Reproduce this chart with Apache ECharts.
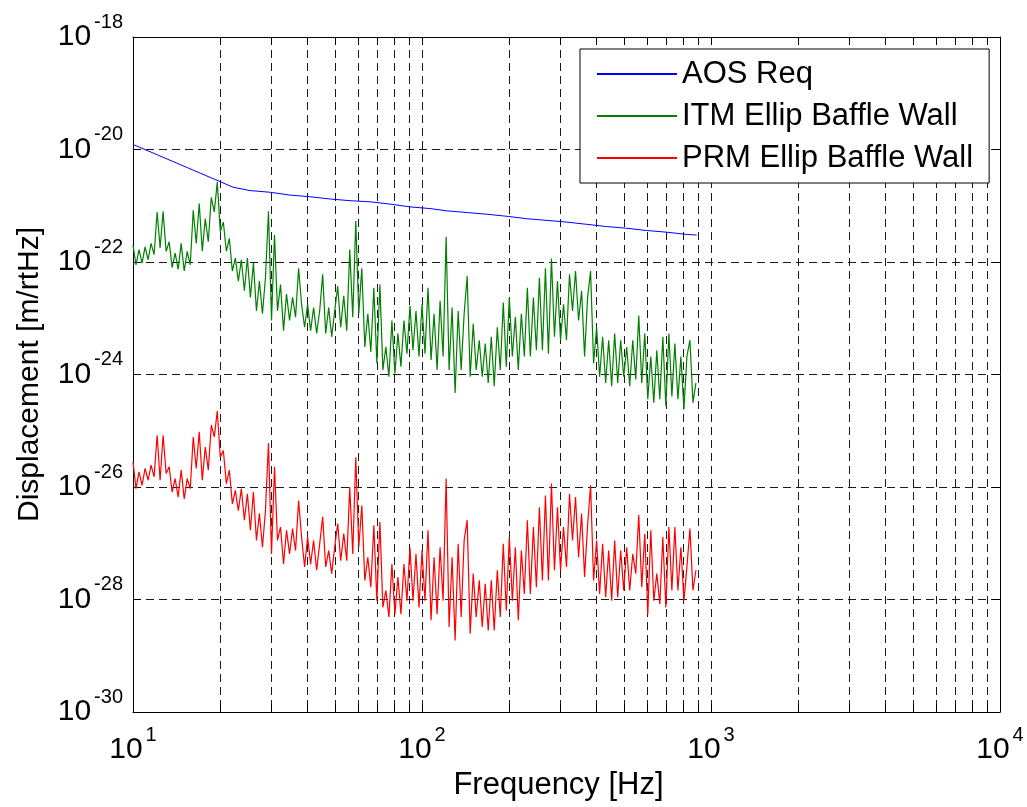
<!DOCTYPE html>
<html>
<head>
<meta charset="utf-8">
<title>Displacement spectra</title>
<script src="https://cdn.jsdelivr.net/npm/echarts@6/dist/echarts.min.js"></script>
<style>
  html, body { margin: 0; padding: 0; background: #fff; }
  #main { width: 1027px; height: 807px; }
</style>
</head>
<body>
<div id="main"></div>
<script>
// frequencies of the measured spectra [Hz]
var FREQ = [
  10, 10.24, 10.49, 10.75, 11.01, 11.28, 11.55, 11.83, 12.12, 12.41, 12.71, 13.02, 13.34, 13.66, 13.99, 14.33,
  14.68, 15.04, 15.40, 15.78, 16.16, 16.55, 16.95, 17.37, 17.78, 18.22, 18.66, 19.11, 19.57, 20.05, 20.54, 21.04,
  21.54, 22.07, 22.60, 23.15, 23.71, 24.29, 24.88, 25.48, 26.10, 26.74, 27.38, 28.05, 28.73, 29.43, 30.15, 30.88,
  31.62, 32.39, 33.18, 33.98, 34.81, 35.66, 36.52, 37.41, 38.31, 39.24, 40.20, 41.17, 42.17, 43.20, 44.25, 45.32,
  46.42, 47.55, 48.70, 49.88, 51.09, 52.33, 53.61, 54.91, 56.23, 57.60, 59.00, 60.43, 61.90, 63.40, 64.94, 66.52,
  68.13, 69.79, 71.49, 73.22, 74.99, 76.82, 78.68, 80.59, 82.54, 84.55, 86.60, 88.70, 90.85, 93.06, 95.32, 97.63,
  100, 102.4, 104.9, 107.5, 110.1, 112.8, 115.5, 118.3, 121.2, 124.1, 127.1, 130.2, 133.4, 136.6, 139.9, 143.3,
  146.8, 150.4, 154.0, 157.8, 161.6, 165.5, 169.5, 173.7, 177.8, 182.2, 186.6, 191.1, 195.7, 200.5, 205.4, 210.4,
  215.4, 220.7, 226.0, 231.5, 237.1, 242.9, 248.8, 254.8, 261.0, 267.4, 273.8, 280.5, 287.3, 294.3, 301.5, 308.8,
  316.2, 323.9, 331.8, 339.8, 348.1, 356.6, 365.2, 374.1, 383.1, 392.4, 402.0, 411.7, 421.7, 432.0, 442.5, 453.2,
  464.2, 475.5, 487.0, 498.8, 510.9, 523.3, 536.1, 549.1, 562.3, 576.0, 590.0, 604.3, 619.0, 634.0, 649.4, 665.2,
  681.3, 697.9, 714.9, 732.2, 749.9, 768.2, 786.8, 805.9, 825.4, 845.5, 866.0, 887.0
]

// ITM Ellip Baffle Wall, log10 of displacement [m/rtHz]
var ITM_LOG = [
  -21.70, -22.05, -21.78, -22.02, -21.73, -21.96, -21.67, -21.87, -21.11, -21.75, -21.10, -21.81, -21.64, -22.10, -21.84, -22.13,
  -21.67, -22.16, -21.81, -22.05, -21.08, -21.67, -20.96, -21.81, -21.23, -21.64, -20.85, -21.11, -20.58, -21.46, -21.29, -21.81,
  -21.58, -22.16, -21.93, -22.34, -21.96, -22.51, -21.93, -22.63, -22.02, -22.87, -22.34, -22.92, -22.28, -21.10, -23.04, -21.52,
  -22.87, -22.40, -23.22, -22.57, -23.04, -22.63, -22.98, -22.11, -22.75, -23.16, -22.75, -23.22, -22.81, -23.27, -22.87, -22.22,
  -23.27, -22.81, -23.33, -22.87, -22.43, -23.16, -22.60, -23.22, -21.78, -22.98, -21.27, -22.92, -22.11, -23.51, -22.92, -23.60,
  -22.46, -23.80, -22.40, -23.92, -23.51, -24.04, -23.04, -23.98, -23.27, -23.86, -23.04, -23.63, -22.78, -23.57, -22.87, -23.68,
  -22.75, -23.63, -22.46, -23.74, -22.92, -23.92, -22.69, -23.68, -21.55, -23.92, -22.81, -24.33, -22.87, -23.92, -22.92, -22.25,
  -24.04, -23.10, -23.92, -23.39, -24.04, -23.45, -24.15, -23.33, -24.21, -23.16, -23.92, -22.72, -23.86, -22.63, -23.68, -22.98,
  -23.92, -22.92, -23.68, -22.46, -23.68, -22.63, -23.57, -22.28, -23.57, -22.11, -23.63, -21.94, -23.33, -22.34, -23.39, -22.75,
  -23.39, -22.22, -22.87, -22.16, -23.04, -22.51, -23.68, -22.63, -22.16, -23.80, -23.16, -24.04, -23.33, -24.15, -23.39, -24.21,
  -23.27, -24.15, -23.39, -24.04, -23.51, -24.21, -23.39, -24.09, -22.95, -24.15, -23.27, -24.44, -23.68, -24.50, -23.57, -24.44,
  -23.33, -24.56, -23.27, -24.39, -23.45, -24.44, -23.68, -24.62, -23.68, -23.39, -24.50, -24.15
]

// PRM Ellip Baffle Wall, log10 of displacement [m/rtHz]
var PRM_LOG = [
  -25.55, -26.03, -25.73, -25.97, -25.67, -25.88, -25.61, -25.82, -25.08, -25.88, -25.08, -25.76, -25.64, -26.09, -25.85, -26.18,
  -25.70, -26.21, -25.85, -26.03, -25.11, -25.67, -25.02, -25.88, -25.29, -25.70, -24.90, -25.11, -24.65, -25.47, -25.35, -25.94,
  -25.70, -26.30, -26.06, -26.42, -26.03, -26.59, -26.12, -26.77, -26.09, -26.95, -26.47, -27.07, -26.42, -25.22, -27.19, -25.64,
  -26.95, -26.71, -27.37, -26.77, -27.19, -26.74, -27.13, -26.24, -26.89, -27.42, -26.89, -27.37, -26.95, -27.48, -27.01, -26.53,
  -27.42, -27.13, -27.54, -27.07, -26.65, -27.31, -26.83, -27.31, -26.00, -27.19, -25.47, -27.07, -26.33, -27.66, -27.25, -27.78,
  -26.68, -28.02, -26.62, -28.14, -27.84, -28.31, -27.37, -28.26, -27.60, -28.26, -27.37, -28.02, -27.07, -28.02, -27.19, -28.14,
  -27.13, -28.02, -26.77, -28.37, -27.25, -28.26, -27.07, -28.02, -25.85, -28.49, -27.25, -28.73, -27.01, -28.31, -26.95, -26.59,
  -28.61, -27.54, -28.31, -27.66, -28.49, -27.72, -28.55, -27.66, -28.55, -27.48, -28.31, -27.01, -28.20, -26.89, -28.02, -27.07,
  -28.37, -27.13, -27.90, -26.59, -27.90, -26.71, -27.78, -26.36, -27.66, -26.15, -27.66, -25.94, -27.48, -26.36, -27.48, -26.71,
  -27.42, -26.12, -26.95, -26.18, -27.25, -26.47, -27.60, -26.68, -25.97, -27.66, -26.95, -27.90, -27.01, -27.96, -27.13, -28.02,
  -26.95, -27.96, -27.13, -27.84, -27.07, -27.84, -27.19, -27.54, -26.50, -27.78, -26.83, -28.26, -26.77, -28.02, -27.54, -28.08,
  -26.89, -28.14, -26.71, -27.84, -26.71, -27.84, -27.07, -28.02, -27.42, -26.74, -27.84, -27.48
]

// AOS requirement curve
var AOS_FREQ = [10, 22.2, 25.4, 29.8, 34.9, 41.0, 48.1, 56.4, 66.1, 77.5, 90.9, 106.6, 121.8, 142.8, 167.4, 198.9,
  230.3, 270.1, 316.7, 371.4, 435.6, 510.9, 599.1, 702.6, 823.9, 892.5]
var AOS_LOG = [-19.91, -20.67, -20.73, -20.76, -20.81, -20.84, -20.88, -20.91, -20.93, -20.97, -21.02, -21.05, -21.09, -21.12, -21.15, -21.19,
  -21.23, -21.26, -21.29, -21.33, -21.37, -21.40, -21.44, -21.47, -21.51, -21.52]

// axis ticks
var X_TICKS = [10, 20, 30, 40, 50, 60, 70, 80, 90, 100, 200, 300, 400, 500, 600, 700, 800, 900,
  1000, 2000, 3000, 4000, 5000, 6000, 7000, 8000, 9000, 10000]
var X_LABELS = [10, 100, 1000, 10000]
var Y_TICKS = [1e-30, 1e-28, 1e-26, 1e-24, 1e-22, 1e-20, 1e-18]

var FONT = 'Liberation Sans, Arial, Helvetica, sans-serif'

function toPairs (freq, logs) {
  return freq.map(function (f, i) { return [f, Math.pow(10, logs[i])] })
}

// "10" with the exponent raised as a superscript
function powLabel (v) {
  var e = Math.round(Math.log10(v))
  return '{b|10}{s|' + e + '}'
}

var powRich = {
  b: { fontSize: 30, lineHeight: 30, fontFamily: FONT, color: '#000' },
  s: { fontSize: 20, lineHeight: 20, fontFamily: FONT, color: '#000', padding: [0, 0, 30, 3] }
}

var gridDash = { color: '#1a1a1a', width: 1, type: [8, 5] }

var option = {
  animation: false,
  backgroundColor: '#fff',
  grid: { left: 133, right: 27, top: 37, bottom: 95, outerBoundsMode: 'none' },
  legend: {
    orient: 'vertical',
    left: 580,
    top: 49,
    padding: [4, 16, 4, 16],
    itemGap: 0,
    itemWidth: 80,
    itemHeight: 14,
    selectedMode: false,
    backgroundColor: '#fff',
    borderColor: '#000',
    borderWidth: 1,
    itemStyle: { opacity: 0 },
    textStyle: { fontSize: 31, lineHeight: 42, fontFamily: FONT, color: '#000' },
    data: ['AOS Req', 'ITM Ellip Baffle Wall', 'PRM Ellip Baffle Wall']
  },
  xAxis: [
    {
      type: 'log',
      logBase: 10,
      min: 10,
      max: 10000,
      position: 'bottom',
      name: 'Frequency [Hz]',
      nameLocation: 'middle',
      nameGap: 58,
      nameMoveOverlap: false,
      nameTextStyle: { fontSize: 31, fontFamily: FONT, color: '#000', verticalAlign: 'top', padding: [0, 16, 0, 0] },
      axisLine: { show: true, onZero: false, lineStyle: { color: '#000', width: 1 } },
      axisTick: { show: true, inside: true, length: 8, customValues: X_TICKS, lineStyle: { color: '#000' } },
      axisLabel: { customValues: X_LABELS, margin: 23, formatter: powLabel, rich: powRich },
      splitLine: { show: true, lineStyle: gridDash },
      minorTick: { show: false },
      minorSplitLine: { show: false }
    },
    {
      type: 'log',
      logBase: 10,
      min: 10,
      max: 10000,
      position: 'top',
      axisLine: { show: true, onZero: false, lineStyle: { color: '#000', width: 1 } },
      axisTick: { show: true, inside: true, length: 8, customValues: X_TICKS, lineStyle: { color: '#000' } },
      axisLabel: { show: false },
      splitLine: { show: false }
    }
  ],
  yAxis: [
    {
      type: 'log',
      logBase: 10,
      min: 1e-30,
      max: 1e-18,
      position: 'left',
      name: 'Displacement [m/rtHz]',
      nameLocation: 'middle',
      nameRotate: 90,
      nameGap: 88,
      nameMoveOverlap: false,
      nameTextStyle: { fontSize: 30, fontFamily: FONT, color: '#000' },
      axisLine: { show: true, onZero: false, lineStyle: { color: '#000', width: 1 } },
      axisTick: { show: true, inside: true, length: 8, customValues: Y_TICKS, lineStyle: { color: '#000' } },
      axisLabel: { customValues: Y_TICKS, margin: 10, formatter: powLabel, rich: powRich },
      splitLine: { show: true, lineStyle: gridDash }
    },
    {
      type: 'log',
      logBase: 10,
      min: 1e-30,
      max: 1e-18,
      position: 'right',
      axisLine: { show: true, onZero: false, lineStyle: { color: '#000', width: 1 } },
      axisTick: { show: true, inside: true, length: 8, customValues: Y_TICKS, lineStyle: { color: '#000' } },
      axisLabel: { show: false },
      splitLine: { show: false }
    }
  ],
  series: [
    {
      name: 'AOS Req',
      type: 'line',
      symbol: 'none',
      color: '#0000ff',
      lineStyle: { width: 1, color: '#0000ff' },
      data: toPairs(AOS_FREQ, AOS_LOG)
    },
    {
      name: 'ITM Ellip Baffle Wall',
      type: 'line',
      symbol: 'none',
      color: '#008000',
      lineStyle: { width: 1.2, color: '#008000' },
      data: toPairs(FREQ, ITM_LOG)
    },
    {
      name: 'PRM Ellip Baffle Wall',
      type: 'line',
      symbol: 'none',
      color: '#ff0000',
      lineStyle: { width: 1.2, color: '#ff0000' },
      data: toPairs(FREQ, PRM_LOG)
    }
  ]
}

var chart = echarts.init(document.getElementById('main'))
chart.setOption(option)
</script>
</body>
</html>
